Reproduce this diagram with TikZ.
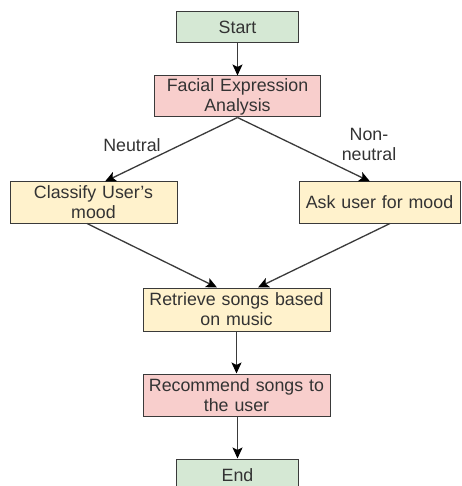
\documentclass[tikz,border=0pt]{standalone}
\usepackage{fontspec}
\setmainfont{Liberation Sans}
\usetikzlibrary{arrows.meta,calc}
\definecolor{gfill}{HTML}{D5E8D4}
\definecolor{rfill}{HTML}{F8CECC}
\definecolor{yfill}{HTML}{FFF2CC}
\definecolor{txt}{HTML}{333333}
\definecolor{ln}{HTML}{3A3A3A}
\begin{document}
\begin{tikzpicture}[x=1pt,y=-1pt,
  box/.style={draw=ln,line width=1pt,align=center,inner xsep=0pt,inner ysep=0pt,text=txt,
    font=\fontsize{17.8}{20}\selectfont},
  lbl/.style={align=center,text=txt,inner sep=0pt,font=\fontsize{17.8}{20}\selectfont},
  arr/.style={draw=ln,line width=1.3pt,-{Stealth[length=11pt,width=10pt,inset=2.5pt,fill=black,color=black]}}]
\clip (0,0) rectangle (461,486);
\fill[white] (0,0) rectangle (461,486);
\node[box,fill=gfill,text width=122pt,minimum height=31pt] (start) at (237.5,27.5) {Start};
\node[box,fill=rfill,text width=166pt,minimum height=41pt] (fea) at (237.5,96.5) {Facial Expression\\Analysis};
\node[box,fill=yfill,text width=167pt,minimum height=41pt] (cls) at (93.5,202.5) {Classify User's\\mood};
\node[box,fill=yfill,text width=161pt,minimum height=41pt] (ask) at (379.5,202.5) {Ask user for mood};
\node[box,fill=yfill,text width=187pt,minimum height=43pt] (ret) at (236.5,309.5) {Retrieve songs based\\on music};
\node[box,fill=rfill,text width=187pt,minimum height=42pt] (rec) at (236.5,395) {Recommend songs to\\the user};
\node[box,fill=gfill,text width=122pt,minimum height=32pt] (endn) at (237.5,475) {End};
\node[lbl] (neu) at (132,145) {Neutral};
\node[lbl] (nonneu) at (369,144) {Non-\\neutral};
\coordinate (c1) at ($(cls.north)+(11.5,0)$);
\coordinate (c2) at ($(ask.north)+(-9.5,0)$);
\coordinate (c3) at ($(cls.south)+(-6.5,0)$);
\coordinate (c4) at ($(ask.south)+(10.5,0)$);
\coordinate (r1) at ($(ret.north)+(-19.5,0)$);
\coordinate (r2) at ($(ret.north)+(21.5,0)$);
\draw[arr] (start) -- (fea);
\draw[arr] (fea.south) -- (c1);
\draw[arr] (fea.south) -- (c2);
\draw[arr] (c3) -- (r1);
\draw[arr] (c4) -- (r2);
\draw[arr] (rec.north |- ret.south) -- (rec.north);
\draw[arr] (endn.north |- rec.south) -- (endn.north);
\end{tikzpicture}
\end{document}
